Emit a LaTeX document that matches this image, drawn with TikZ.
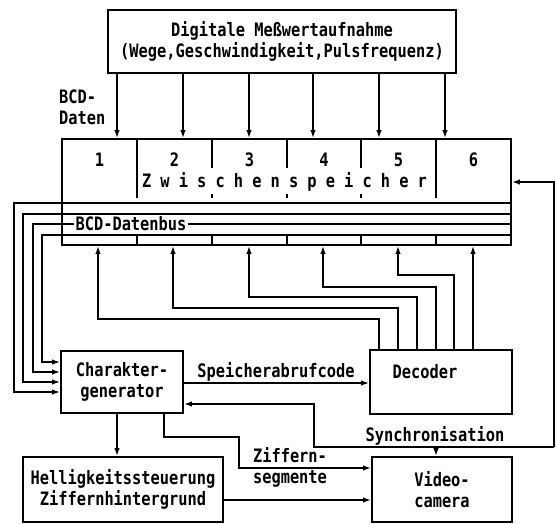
\documentclass[tikz,border=0pt]{standalone}
\usepackage{fontspec}
\setmonofont[FakeStretch=0.83]{DejaVu Sans Mono}
\usetikzlibrary{arrows.meta,positioning}

\begin{document}
\begin{tikzpicture}[x=1pt,y=-1pt,
  line width=1.8pt,
  font=\ttfamily\bfseries\fontsize{18.5}{21}\selectfont,
  block/.style={draw,inner sep=0pt,align=center},
  flow/.style={-{Latex[length=8pt,width=5.5pt]}},
  ]
\useasboundingbox (0,0) rectangle (556,523);

% boxes
\node[block,minimum width=348pt,minimum height=63pt] (mw) at (282,41.5)
  {Digitale Meßwertaufnahme\\(Wege,Geschwindigkeit,Pulsfrequenz)};
\node[block,minimum width=449pt,minimum height=106pt] (zs) at (286.5,192) {};
\node[block,minimum width=122pt,minimum height=62pt] (cg) at (122,382)
  {Charakter-\\generator};
\node[block,minimum width=142pt,minimum height=64pt,
  label={[xshift=-16pt,yshift=10pt]center:Decoder}] (dec) at (441,382) {};
\node[block,minimum width=200pt,minimum height=65pt] (hs) at (123,489.5)
  {Helligkeitssteuerung\\Ziffernhintergrund};
\node[block,minimum width=140pt,minimum height=65pt] (vc) at (442,489.5)
  {Video-\\camera};

% Zwischenspeicher cells
\foreach \x in {137,436} \draw (\x,139) -- (\x,198);
\foreach \x in {212,287,361} {
  \draw (\x,139) -- (\x,168);
  \draw (\x,194) -- (\x,198);
}
\foreach \x in {137,212,287,361,436} \draw (\x,235) -- (\x,245);
\foreach \n/\x in {1/99.5,2/174.5,3/249.5,4/324,5/398.5,6/473.5}
  \node (n\n) at (\x,160) {\n};
\node (zsp) at (284.5,182)
  {\makebox[285pt][s]{Z\hfil w\hfil i\hfil s\hfil c\hfil h\hfil e\hfil n\hfil s\hfil p\hfil e\hfil i\hfil c\hfil h\hfil e\hfil r}};

% BCD data from the top
\foreach \x in {117,183,249,313,379,445}
  \draw[flow] (mw.south -| \x,0) -- (zs.north -| \x,0);
\node[align=left,anchor=west] (bcd) at (55,107) {BCD-\\Daten};

% data bus
\foreach \x/\y/\t in {14/203/392,23/214/382,33/224/372,42/235/362} {
  \coordinate (b\t) at (0,\t);
  \draw[flow] (zs.east |- 0,\y) -- (\x,\y) |- (cg.west |- b\t);
}
\node[fill=white,inner sep=2pt] (bus) at (131,224) {BCD-Datenbus};

% decoder to register
\foreach \x/\y/\d in {98/319/379,173/308/398,249/297/417,323/287/436,398/275/454}
  \draw[flow] (dec.north -| \d,0) |- (\x,\y) -- (zs.south -| \x,0);
\draw[flow] (dec.north -| 473,0) -- (zs.south -| 473,0);

% synchronisation
\coordinate (rs) at (554,447);
\draw[flow] (rs) |- (zs.east |- 0,182);
\draw[flow] (rs) -- (314,447) |- (cg.east |- 0,404);
\draw[flow] (436,447) -- (vc.north -| 436,0);
\node (syn) at (435,436) {Synchronisation};

% other links
\draw[flow] (cg.east |- 0,383) -- (dec.west |- 0,383);
\node (sac) at (276,372) {Speicherabrufcode};
\draw[flow] (cg.south -| 117,0) -- (hs.north -| 117,0);
\draw[flow] (cg.south -| 164,0) |- (239,437) |- (vc.west |- 0,468);
\node[align=center] (zsg) at (290,467.5) {Ziffern-\\segmente};
\draw[flow] (hs.east |- 0,500) -- (vc.west |- 0,500);

\end{tikzpicture}
\end{document}
